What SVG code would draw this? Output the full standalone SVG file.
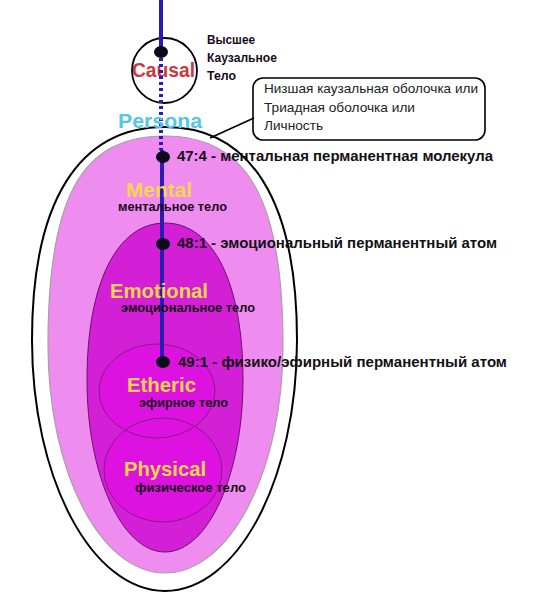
<svg xmlns="http://www.w3.org/2000/svg" width="541" height="612" viewBox="0 0 541 612">
<style>
.lbl{font-family:"Liberation Sans",Arial,sans-serif;font-weight:bold;fill:#141014}
.big{font-family:"Liberation Sans",Arial,sans-serif;font-weight:bold;font-size:20px}
.yl{fill:#f7d64c}
.sub{font-family:"Liberation Sans",Arial,sans-serif;font-weight:bold;font-size:12px;fill:#1a0a1a}
.box{font-family:"Liberation Sans",Arial,sans-serif;font-size:13.5px;fill:#222}
.dot{fill:#0a0a1a}
</style>
<rect width="541" height="612" fill="#ffffff"/>
<g id="persona-shell">
<path d="M165,127 C251,127 297,201 297,340 C297,479 238,591 165,591 C92,591 32,479 32,340 C32,201 79,127 165,127 Z" fill="#ffffff" stroke="#000" stroke-width="2"/>
</g>
<g id="mental">
<path d="M165,136 C247,136 283,199 283,345 C283,471 230,573 165,573 C100,573 48,471 48,345 C48,199 80,136 165,136 Z" fill="#ef8cef" stroke="#a8a0a8" stroke-width="1.2"/>
</g>
<g id="emotional">
<path d="M165,223 C213,223 243,283 243,380 C243,475 208,552 165,552 C122,552 87,475 87,380 C87,283 117,223 165,223 Z" fill="#d31fd6" stroke="#6a126a" stroke-width="1"/>
</g>
<g id="etheric-physical">
<ellipse cx="157" cy="391" rx="58" ry="47" fill="#dd12e0"/>
<ellipse cx="163" cy="470" rx="59" ry="52" fill="#dd12e0"/>
<ellipse cx="157" cy="391" rx="58" ry="47" fill="none" stroke="#8a1a8a" stroke-width="1"/>
<ellipse cx="163" cy="470" rx="59" ry="52" fill="none" stroke="#8a1a8a" stroke-width="1"/>
</g>
<g id="causal">
<circle cx="164.5" cy="70.5" r="32.5" fill="#ffffff" stroke="#000" stroke-width="1.8"/>
<text x="163.5" y="77" text-anchor="middle" class="big" fill="#c83a3c" textLength="63" lengthAdjust="spacingAndGlyphs">Causal</text>
</g>
<g id="callout">
<rect x="253" y="78" width="232" height="62" rx="10" fill="#ffffff" stroke="#000" stroke-width="1.6"/>
<text class="box" x="264" y="93" textLength="214" lengthAdjust="spacingAndGlyphs">Низшая каузальная оболочка или</text>
<text class="box" x="264" y="112" textLength="151" lengthAdjust="spacingAndGlyphs">Триадная оболочка или</text>
<text class="box" x="264" y="130" textLength="59" lengthAdjust="spacingAndGlyphs">Личность</text>
</g>
<g id="connectors">
<line x1="210" y1="138" x2="254" y2="118" stroke="#000" stroke-width="1.6"/>
<line x1="161" y1="0" x2="161" y2="54" stroke="#2b1cb0" stroke-width="4"/>
<line x1="161" y1="58" x2="161" y2="150" stroke="#2b1cb0" stroke-width="4" stroke-dasharray="3 3"/>
<line x1="162" y1="150" x2="162" y2="362" stroke="#2b1cb0" stroke-width="4"/>
</g>
<g id="persona-label">
<text x="160" y="128" text-anchor="middle" class="big" font-size="21" fill="#55c6e4" textLength="84" lengthAdjust="spacingAndGlyphs">Persona</text>
</g>
<g id="causal-label">
<text class="sub" x="207" y="44" textLength="48" lengthAdjust="spacingAndGlyphs">Высшее</text>
<text class="sub" x="207" y="62" textLength="70" lengthAdjust="spacingAndGlyphs">Каузальное</text>
<text class="sub" x="207" y="80" textLength="29" lengthAdjust="spacingAndGlyphs">Тело</text>
</g>
<g id="atoms">
<ellipse class="dot" cx="161" cy="52" rx="7" ry="6"/>
<ellipse class="dot" cx="163" cy="157" rx="7" ry="6"/>
<ellipse class="dot" cx="163" cy="244" rx="7" ry="6"/>
<ellipse class="dot" cx="163" cy="362" rx="7" ry="6"/>
<text class="lbl" x="177" y="161" font-size="14" textLength="316" lengthAdjust="spacingAndGlyphs">47:4 - ментальная перманентная молекула</text>
<text class="lbl" x="177" y="248" font-size="14" textLength="320" lengthAdjust="spacingAndGlyphs">48:1 - эмоциональный перманентный атом</text>
<text class="lbl" x="178" y="367" font-size="14" textLength="329" lengthAdjust="spacingAndGlyphs">49:1 - физико/эфирный перманентный атом</text>
</g>
<g id="body-labels">
<text class="big yl" x="126" y="197" textLength="66" lengthAdjust="spacingAndGlyphs">Mental</text>
<text class="sub" x="118" y="211" textLength="109" lengthAdjust="spacingAndGlyphs">ментальное тело</text>
<text class="big yl" x="110" y="298" textLength="98" lengthAdjust="spacingAndGlyphs">Emotional</text>
<text class="sub" x="121" y="312" textLength="134" lengthAdjust="spacingAndGlyphs">эмоциональное тело</text>
<text class="big yl" x="127" y="392" textLength="69" lengthAdjust="spacingAndGlyphs">Etheric</text>
<text class="sub" x="139" y="407" textLength="89" lengthAdjust="spacingAndGlyphs">эфирное тело</text>
<text class="big yl" x="124" y="476" textLength="82" lengthAdjust="spacingAndGlyphs">Physical</text>
<text class="sub" x="135" y="492" textLength="111" lengthAdjust="spacingAndGlyphs">физическое тело</text>
</g>
</svg>
